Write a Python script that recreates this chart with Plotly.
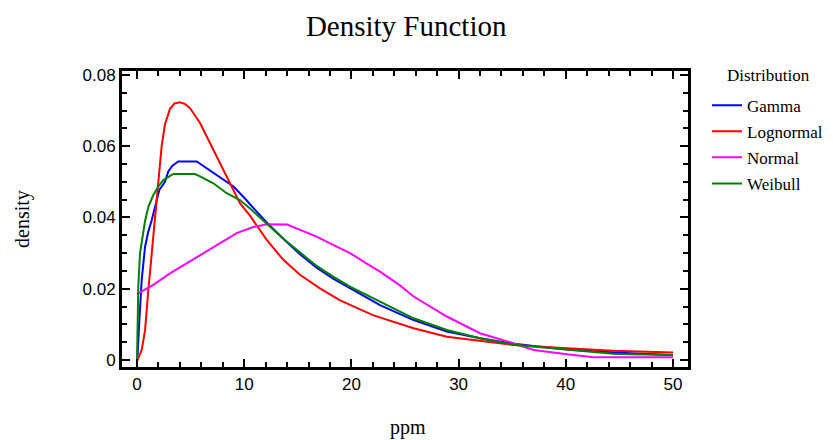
import plotly.graph_objects as go

# ---- data ----
gamma_x = [0, 0.03, 0.22, 0.44, 0.75, 1.05, 1.37, 1.68, 2.08, 2.61, 2.92, 3.3, 3.85, 5.57, 6.5, 7.74, 9.0, 10.2, 10.54, 12.1, 13.65, 15.2, 16.76, 18.3, 19.87, 22.67, 25.8, 28.9, 32.0, 35.0, 37.6, 40.7, 45.0, 50.0]
gamma_y = [0, 0.0, 0.0112, 0.0225, 0.0318, 0.036, 0.0392, 0.043, 0.0477, 0.050, 0.0529, 0.0545, 0.0557, 0.0557, 0.0538, 0.0515, 0.0487, 0.0449, 0.0437, 0.0386, 0.0340, 0.0297, 0.0259, 0.0228, 0.0201, 0.0154, 0.0112, 0.0080, 0.0061, 0.0046, 0.0037, 0.0028, 0.0020, 0.0014]

logn_x = [0, 0.12, 0.44, 0.75, 1.06, 1.37, 1.52, 1.83, 2.08, 2.3, 2.6, 3.08, 3.5, 4.0, 4.5, 4.94, 5.88, 6.81, 7.74, 8.68, 9.6, 10.54, 12.1, 13.65, 15.2, 17.07, 18.9, 22.0, 25.8, 28.9, 32.0, 35.1, 40.1, 44.4, 50.0]
logn_y = [0, 0.0005, 0.0028, 0.0084, 0.0197, 0.030, 0.036, 0.046, 0.054, 0.060, 0.066, 0.0705, 0.0720, 0.0723, 0.0718, 0.0707, 0.0665, 0.0608, 0.0552, 0.0496, 0.0440, 0.0405, 0.0337, 0.0281, 0.0239, 0.0201, 0.0168, 0.0126, 0.0089, 0.0065, 0.0053, 0.0042, 0.0033, 0.0026, 0.0021]

norm_x = [0, 1.52, 3.08, 4.63, 6.19, 7.74, 9.3, 10.85, 12.1, 14.0, 15.2, 16.76, 18.3, 19.87, 21.4, 22.67, 24.5, 25.8, 28.9, 32.0, 35.1, 37.0, 40.1, 42.6, 50.0]
norm_y = [0.0185, 0.0211, 0.0243, 0.0271, 0.0300, 0.0327, 0.0356, 0.0373, 0.0381, 0.0380, 0.0366, 0.0346, 0.0323, 0.0300, 0.0271, 0.0248, 0.0210, 0.0178, 0.0122, 0.0075, 0.0047, 0.0028, 0.0016, 0.0008, 0.0008]

weib_x = [0, 0.12, 0.28, 0.59, 0.75, 1.06, 1.52, 1.99, 2.45, 3.39, 5.41, 5.88, 7.12, 8.37, 9.6, 10.54, 12.1, 13.65, 15.2, 16.76, 18.3, 19.87, 22.67, 25.8, 28.9, 32.0, 35.1, 40.7, 44.7, 50.0]
weib_y = [0, 0.0206, 0.0300, 0.0365, 0.0390, 0.0430, 0.0463, 0.0487, 0.0505, 0.0522, 0.0522, 0.0515, 0.0496, 0.0468, 0.0449, 0.0425, 0.0383, 0.0340, 0.0302, 0.0264, 0.0234, 0.0206, 0.0164, 0.0117, 0.0084, 0.0061, 0.0043, 0.0028, 0.0017, 0.0014]

series = [
    ("Gamma", gamma_x, gamma_y, "#0000FF"),
    ("Lognormal", logn_x, logn_y, "#FF0000"),
    ("Normal", norm_x, norm_y, "#FF00FF"),
    ("Weibull", weib_x, weib_y, "#008000"),
]

SERIF = "Liberation Serif, Times New Roman, serif"
SANS = "Liberation Sans, Arial, sans-serif"

fig = go.Figure()
for i, (name, xs, ys, col) in enumerate(series):
    fig.add_trace(go.Scatter(x=xs, y=ys, mode="lines", name=name,
                             legendgroup=str(i),
                             line=dict(color=col, width=2)))

axis_common = dict(
    showline=True, linecolor="black", linewidth=3, mirror="ticks",
    ticks="inside", ticklen=8, tickwidth=2, tickcolor="black",
    showgrid=False, zeroline=False,
    tickfont=dict(family=SANS, size=17, color="black"),
)

fig.update_xaxes(range=[-1.4, 51.4], dtick=10, tick0=0,
                 minor=dict(dtick=2, ticks="inside", ticklen=5, tickwidth=2, tickcolor="black"),
                 **axis_common)
fig.update_yaxes(range=[-0.00197, 0.0811], dtick=0.02, tick0=0,
                 minor=dict(dtick=0.005, ticks="inside", ticklen=5, tickwidth=2, tickcolor="black"),
                 **axis_common)

# page body has an 8px margin, so the figure is laid out 8px in from the window corner
fig.update_layout(
    width=833, height=432,
    margin=dict(l=114, r=153, t=63, b=73),
    paper_bgcolor="white", plot_bgcolor="white",
    title=dict(text="Density Function", x=0.478, xanchor="center", y=0.958, yanchor="middle",
               font=dict(family=SERIF, size=29, color="black")),
    legend=dict(font=dict(family=SERIF, size=17, color="black"),
                x=1.0336, xanchor="left", y=0.944, yanchor="top",
                traceorder="grouped", tracegroupgap=1,
                bgcolor="rgba(0,0,0,0)"),
    annotations=[
        dict(text="Distribution", x=1.143, y=0.986, xref="paper", yref="paper",
             showarrow=False, xanchor="center", yanchor="middle",
             font=dict(family=SERIF, size=17, color="black")),
        dict(text="density", textangle=-90, x=-0.1767, y=0.5, xref="paper", yref="paper",
             showarrow=False, xanchor="center", yanchor="middle",
             font=dict(family=SERIF, size=20, color="black")),
        dict(text="ppm", x=0.505, y=-0.206, xref="paper", yref="paper",
             showarrow=False, xanchor="center", yanchor="middle",
             font=dict(family=SERIF, size=20, color="black")),
    ],
)

fig.write_html("out.html")
